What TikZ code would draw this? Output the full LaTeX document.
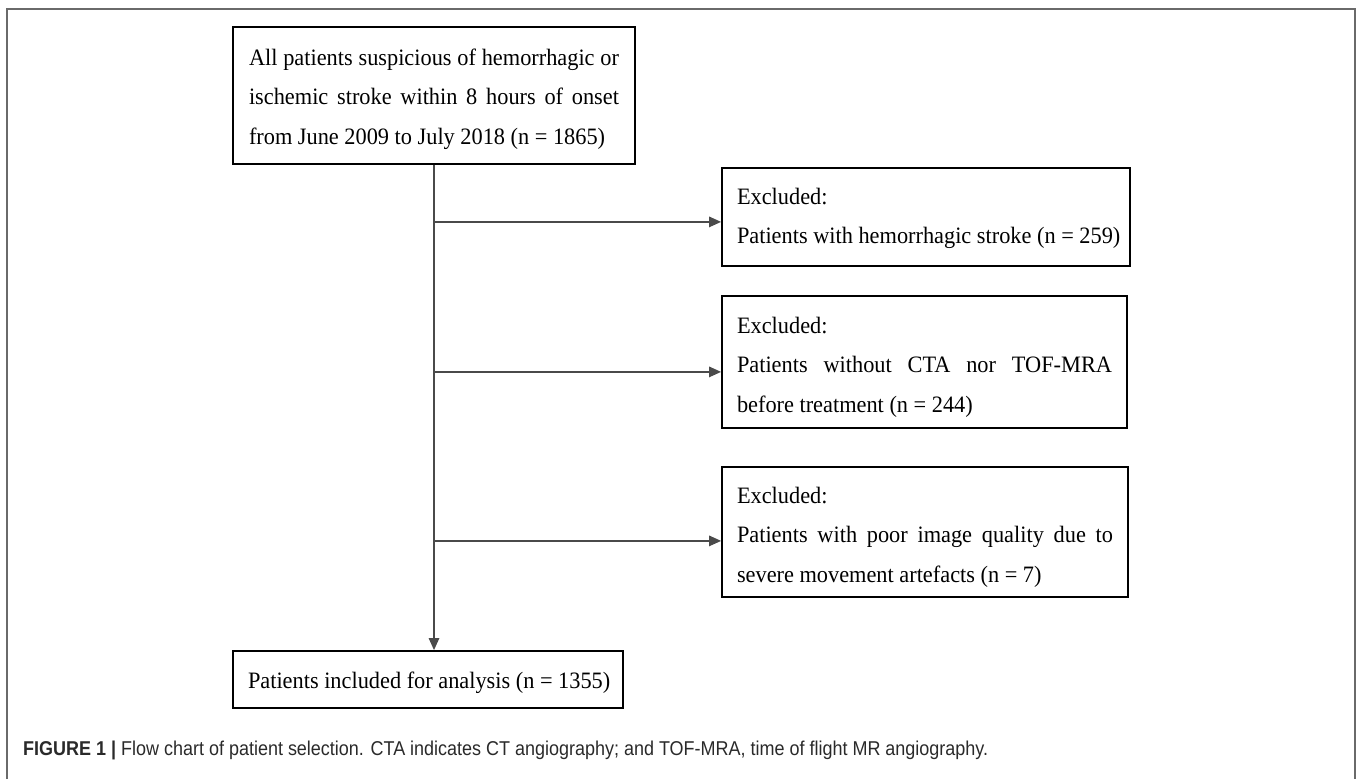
\documentclass[tikz,border=0pt]{standalone}
\usepackage{fontspec}
\usepackage{graphicx}
\setmainfont{Liberation Serif}[FakeStretch=0.95]
\setsansfont{Liberation Sans}
\usetikzlibrary{arrows.meta}
\definecolor{linec}{HTML}{4A4A4A}
\definecolor{framec}{HTML}{6A6A6A}
\definecolor{capc}{HTML}{2A2A2A}
\tikzset{
  flowbox/.style={draw=black, line width=1.8pt, rectangle, inner sep=0pt,
    text height=20pt, font=\fontsize{23.5}{39.5}\selectfont},
  conn/.style={draw=linec, line width=1.3pt},
  arr/.style={conn, -{Triangle[length=12pt,width=10.5pt]}},
  framestyle/.style={draw=framec, line width=2pt},
}
\begin{document}
\begin{tikzpicture}[x=1pt,y=-1pt]
\useasboundingbox (0,0) rectangle (1357,779);
\draw[framestyle] (7,779) -- (7,9) -- (1355,9) -- (1355,779);

\node[flowbox, minimum width=402pt, minimum height=137pt, text depth=81pt] (top) at (434,95.5)
  {\parbox[t]{370pt}{\makebox[370pt][s]{All patients suspicious of hemorrhagic or}\\
   \makebox[370pt][s]{ischemic stroke within 8 hours of onset}\\
   \mbox{from June 2009 to July 2018 (n = 1865)}}};

\node[flowbox, minimum width=408pt, minimum height=98pt, text depth=46pt] (ex1) at (926,217)
  {\parbox[t]{378pt}{\mbox{Excluded:}\\
   \mbox{Patients with hemorrhagic stroke (n = 259)}}};

\node[flowbox, minimum width=405pt, minimum height=132pt, text depth=78pt] (ex2) at (924.5,362)
  {\parbox[t]{375pt}{\mbox{Excluded:}\\
   \makebox[375pt][s]{Patients without CTA nor TOF-MRA}\\
   \mbox{before treatment (n = 244)}}};

\node[flowbox, minimum width=406pt, minimum height=130pt, text depth=78pt] (ex3) at (925,532)
  {\parbox[t]{376pt}{\mbox{Excluded:}\\
   \makebox[376pt][s]{Patients with poor image quality due to}\\
   \mbox{severe movement artefacts (n = 7)}}};

\node[flowbox, minimum width=390pt, minimum height=57pt, text depth=3pt] (bot) at (428,679.5)
  {\parbox[t]{360pt}{\mbox{Patients included for analysis (n = 1355)}}};

\path (top.south) ++(0,57) coordinate (j1);
\path (top.south) ++(0,207) coordinate (j2);
\path (top.south) ++(0,376) coordinate (j3);

\draw[arr] (top.south) -- (top.south |- bot.north);
\draw[arr] (j1) -- (j1 -| ex1.west);
\draw[arr] (j2) -- (j2 -| ex2.west);
\draw[arr] (j3) -- (j3 -| ex3.west);

\node[anchor=base west, inner sep=0pt, text=capc] (cap) at (23,755)
  {\resizebox{965pt}{\height}{\fontsize{20}{24}\sffamily\selectfont\bfseries FIGURE 1 \textbar{} \mdseries Flow chart of patient selection. CTA indicates CT angiography; and TOF-MRA, time of flight MR angiography.}};
\end{tikzpicture}
\end{document}
